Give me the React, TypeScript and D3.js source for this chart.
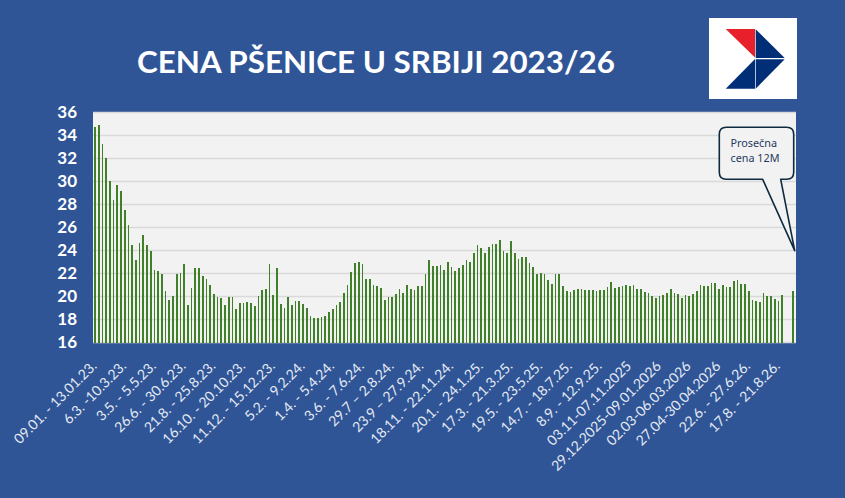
import React, { useRef, useEffect } from "react";
import * as d3 from "d3";

const prices: (number | null)[] = [
  34.72, 34.9, 33.25, 32.03, 30.03, 28.38, 29.68, 29.16, 27.5, 26.2, 24.46, 23.16, 24.64, 25.33, 24.46, 23.94,
  22.29, 22.2, 21.94, 20.46, 19.68, 20.03, 21.94, 22.03, 22.81, 19.25, 20.72, 22.46, 22.46, 21.77, 21.5, 21.0,
  20.2, 19.94, 19.86, 19.25, 19.94, 19.94, 18.9, 19.42, 19.42, 19.5, 19.42, 19.16, 20.03, 20.55, 20.64, 22.81,
  20.12, 22.46, 19.33, 18.99, 19.94, 19.25, 19.6, 19.6, 19.33, 18.99, 18.29, 18.12, 18.12, 18.2, 18.29, 18.64,
  18.9, 19.25, 19.5, 20.29, 20.99, 22.12, 22.9, 22.99, 22.81, 21.5, 21.5, 20.99, 20.9, 20.72, 19.68, 19.94,
  19.94, 20.2, 20.64, 20.29, 20.99, 20.64, 20.55, 20.9, 20.9, 21.94, 23.16, 22.64, 22.64, 22.72, 22.29, 22.99,
  22.55, 22.2, 22.46, 22.72, 23.16, 22.99, 23.77, 24.46, 24.2, 23.77, 24.29, 24.55, 24.55, 24.9, 23.94, 23.77,
  24.81, 23.77, 23.25, 23.42, 23.42, 22.9, 22.55, 21.94, 22.03, 21.94, 21.42, 21.07, 21.94, 21.94, 20.9, 20.46,
  20.38, 20.55, 20.64, 20.64, 20.55, 20.55, 20.55, 20.46, 20.55, 20.55, 20.81, 21.25, 20.72, 20.81, 20.9, 20.99,
  20.9, 20.99, 20.64, 20.64, 20.38, 20.29, 20.03, 19.86, 20.03, 20.12, 20.29, 20.64, 20.29, 20.2, 19.86, 20.12,
  20.03, 20.2, 20.46, 20.99, 20.9, 20.9, 21.16, 21.16, 20.64, 20.99, 20.81, 20.81, 21.33, 21.42, 21.07, 21.07,
  20.46, 19.68, 19.6, 19.5, 20.29, 20.03, 20.03, 19.77, 19.6, 20.12, null, null, 20.46,
];

const dateLabels = [
  "09.01. - 13.01.23.", "6.3. -10.3.23.", "3.5. - 5.5.23.", "26.6. - 30.6.23.", "21.8. - 25.8.23.",
  "16.10. - 20.10.23.", "11.12. - 15.12.23.", "5.2. - 9.2.24.", "1.4. - 5.4.24.", "3.6. - 7.6.24.",
  "29.7 – 2.8.24.", "23.9 – 27.9.24.", "18.11. - 22.11.24.", "20.1. - 24.1.25.", "17.3. - 21.3.25.",
  "19.5. - 23.5.25.", "14.7. - 18.7.25.", "8.9. - 12.9.25.", "03.11-07.11.2025", "29.12.2025-09.01.2026",
  "02.03-06.03.2026", "27.04-30.04.2026", "22.6. - 27.6.26.", "17.8. - 21.8.26.",
];

const priceTicks = [16, 18, 20, 22, 24, 26, 28, 30, 32, 34, 36];
const labelEvery = 8;

export default function App() {
  const svgRef = useRef<SVGSVGElement>(null);

  useEffect(() => {
    if (!svgRef.current) return;
    const svg = d3.select(svgRef.current);
    svg.selectAll("*").remove();

    const width = 845;
    const height = 498;
    const plot = { left: 93, right: 796, top: 112, bottom: 342.5 };

    svg.append("rect").attr("width", width).attr("height", height).attr("fill", "#2F5597");

    // Title
    svg.append("text")
      .attr("x", 376)
      .attr("y", 73)
      .attr("text-anchor", "middle")
      .style("fill", "#ffffff")
      .style("font-family", "Lato, sans-serif")
      .style("font-weight", 700)
      .style("font-size", "31.35px")
      .text("CENA PŠENICE U SRBIJI 2023/26");

    // Logo
    const logo = svg.append("g");
    logo.append("rect").attr("x", 709).attr("y", 18).attr("width", 88).attr("height", 81).attr("fill", "#ffffff");
    logo.append("path").attr("d", "M725.7,29 L755,29 L755,57.5 Z").attr("fill", "#E7202B");
    logo.append("path").attr("d", "M755.7,29.3 L784.7,58 L755.7,58 Z").attr("fill", "#002F78");
    logo.append("path").attr("d", "M755,59 L755,88.7 L725.7,88.7 Z").attr("fill", "#002F78");
    logo.append("path").attr("d", "M755.7,59.3 L784.7,59.3 L755.7,88.7 Z").attr("fill", "#002F78");

    // Scales
    const xScale = d3.scaleBand<number>()
      .domain(prices.map((_, i) => i))
      .range([93.09, 795.2])
      .paddingInner(0.556)
      .paddingOuter(0.3);

    const yScale = d3.scaleLinear()
      .domain([16, 36])
      .range([plot.bottom, plot.top]);

    // Plot area
    svg.append("rect")
      .attr("x", plot.left)
      .attr("y", plot.top)
      .attr("width", plot.right - plot.left)
      .attr("height", plot.bottom - plot.top)
      .attr("fill", "#F2F2F2");

    svg.selectAll(".grid-line")
      .data(priceTicks)
      .enter()
      .append("line")
      .attr("class", "grid-line")
      .attr("x1", plot.left)
      .attr("x2", plot.right)
      .attr("y1", d => Math.floor(yScale(d)) + 0.5)
      .attr("y2", d => Math.floor(yScale(d)) + 0.5)
      .attr("stroke", "#D9D9D9")
      .attr("stroke-width", 1.3);

    // Bars, snapped to whole pixels so they alternate 1px/2px
    const barLeft = (i: number) => Math.round(xScale(i) || 0);
    const barRight = (i: number) => Math.round((xScale(i) || 0) + xScale.bandwidth());

    svg.selectAll(".bar")
      .data(prices.map((value, index) => ({ value, index })).filter(d => d.value !== null))
      .enter()
      .append("rect")
      .attr("class", "bar")
      .attr("x", d => barLeft(d.index))
      .attr("width", d => barRight(d.index) - barLeft(d.index))
      .attr("y", d => yScale(d.value as number))
      .attr("height", d => plot.bottom - yScale(d.value as number))
      .attr("fill", "#3F8029")
      .attr("shape-rendering", "crispEdges");

    // Axes
    const yAxis = d3.axisLeft(yScale).tickValues(priceTicks).tickSize(0).tickPadding(16);
    const yAxisG = svg.append("g")
      .attr("transform", `translate(${plot.left},0)`)
      .call(yAxis);
    yAxisG.select(".domain").remove();
    yAxisG.selectAll("text")
      .style("fill", "#ffffff")
      .style("font-family", "Lato, sans-serif")
      .style("font-weight", 700)
      .style("font-size", "17px");

    const xLabels = svg.append("g")
      .selectAll("text")
      .data(dateLabels)
      .enter()
      .append("text")
      .attr("transform", (_, i) => {
        const x = (xScale(i * labelEvery) || 0) + xScale.bandwidth() / 2 - 1;
        return `translate(${x},${plot.bottom + 21}) rotate(-45)`;
      })
      .attr("text-anchor", "end")
      .style("fill", "#E4E9F2")
      .style("font-family", "Lato, sans-serif")
      .style("font-size", "14px")
      .text(d => d);
    xLabels.attr("dy", "0.35em");

    // Callout
    svg.append("path")
      .attr("d", "M726.3,127.3 L786.7,127.3 Q793.7,127.3 793.7,134.3 L793.7,172.3 Q793.7,179.3 786.7,179.3 L780.7,179.3 L794.7,250.7 L762.7,179.3 L726.3,179.3 Q719.3,179.3 719.3,172.3 L719.3,134.3 Q719.3,127.3 726.3,127.3 Z")
      .attr("fill", "#F2F2F2")
      .attr("stroke", "#0E2A3F")
      .attr("stroke-width", 1.6)
      .attr("stroke-linejoin", "round");

    ["Prosečna", "cena 12M"].forEach((line, i) => {
      svg.append("text")
        .attr("x", 730.5)
        .attr("y", 147 + i * 15)
        .style("fill", "#1F3A5F")
        .style("font-family", "'Noto Sans', sans-serif")
        .style("font-size", "10.8px")
        .text(line);
    });
  }, []);

  return (
    <svg
      ref={svgRef}
      width={845}
      height={498}
      style={{ position: "absolute", left: 0, top: 0, display: "block" }}
    />
  );
}
